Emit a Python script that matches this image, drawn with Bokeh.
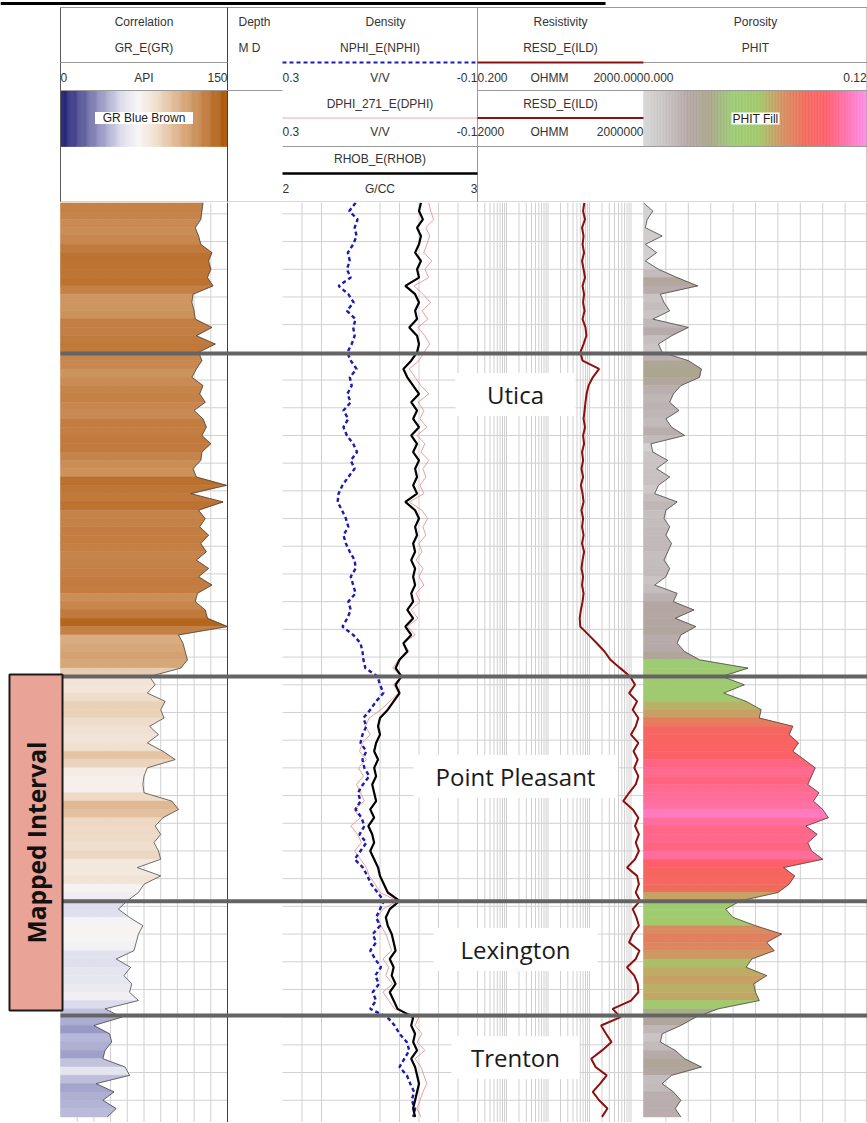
import numpy as np
from bokeh.plotting import figure
from bokeh.layouts import column
from bokeh.models import Range1d, LinearScale, LogScale
from bokeh.core.properties import value
from bokeh.embed import file_html
from bokeh.resources import INLINE

# ---------------- data ----------------
DEPTH_TOP = 6996.0      # ft, first sample
DEPTH_STEP = 3.0        # ft between samples

GR = [128, 127, 126, 121, 124, 126, 136, 133, 135, 132,
      137, 119, 118, 120, 121, 136, 122, 139, 124, 127,
      122, 118, 128, 125, 130, 120, 128, 131, 127, 135,
      127, 126, 119, 122, 149, 117, 146, 124, 130, 125,
      133, 126, 131, 122, 133, 124, 136, 123, 121, 130,
      132, 150, 106, 110, 112, 114, 108, 80, 85, 78,
      94, 90, 93, 80, 88, 78, 92, 103, 78, 75,
      74, 75, 100, 106, 92, 85, 90, 84, 88, 90,
      69, 90, 75, 70, 60, 52, 62, 74, 70, 68,
      66, 50, 63, 57, 64, 62, 70, 40, 55, 30,
      44, 46, 40, 38, 58, 62, 32, 48, 38, 50, 42]

NPHI = [0.150, 0.163, 0.146, 0.152, 0.148, 0.155, 0.166, 0.162, 0.168, 0.160,
        0.185, 0.165, 0.154, 0.168, 0.150, 0.155, 0.152, 0.158, 0.167, 0.160,
        0.148, 0.162, 0.158, 0.167, 0.160, 0.175, 0.165, 0.175, 0.168, 0.155,
        0.147, 0.160, 0.152, 0.165, 0.177, 0.185, 0.187, 0.178, 0.170, 0.165,
        0.175, 0.170, 0.162, 0.152, 0.150, 0.160, 0.155, 0.150, 0.165, 0.160,
        0.167, 0.177, 0.155, 0.140, 0.136, 0.134, 0.130, 0.105, 0.100, 0.093,
        0.108, 0.120, 0.134, 0.128, 0.136, 0.140, 0.128, 0.136, 0.132, 0.122,
        0.135, 0.145, 0.140, 0.150, 0.138, 0.132, 0.142, 0.128, 0.140, 0.152,
        0.135, 0.126, 0.118, 0.105, 0.092, 0.100, 0.108, 0.100, 0.115, 0.108,
        0.120, 0.110, 0.098, 0.110, 0.102, 0.115, 0.108, 0.120, 0.085, 0.070,
        0.060, 0.045, 0.040, 0.050, 0.060, 0.045, 0.038, 0.030, 0.035, 0.028, 0.032]

DPHI = [0.000, -0.004, -0.010, 0.006, -0.002, 0.004, 0.010, -0.006, 0.008, 0.000,
        0.030, 0.012, -0.004, 0.014, 0.002, 0.022, 0.008, -0.002, 0.010, 0.020,
        0.040, 0.028, 0.016, 0.000, 0.022, 0.010, 0.018, 0.004, 0.024, 0.008,
        0.016, 0.000, 0.012, 0.006, 0.018, 0.010, 0.040, 0.014, 0.002, 0.012,
        0.006, 0.020, 0.014, 0.026, 0.012, 0.020, 0.010, 0.026, 0.018, 0.036,
        0.022, 0.044, 0.028, 0.052, 0.040, 0.062, 0.074, 0.056, 0.072, 0.062,
        0.080, 0.098, 0.122, 0.130, 0.120, 0.136, 0.142, 0.128, 0.144, 0.134,
        0.148, 0.140, 0.132, 0.154, 0.140, 0.160, 0.146, 0.138, 0.152, 0.140,
        0.128, 0.122, 0.110, 0.100, 0.064, 0.094, 0.106, 0.098, 0.088, 0.082,
        0.076, 0.094, 0.082, 0.088, 0.074, 0.094, 0.082, 0.070, 0.020, 0.028,
        0.014, 0.024, 0.008, 0.028, 0.016, 0.010, 0.004, 0.012, 0.018, 0.024, 0.016]

RHOB = [2.71, 2.70, 2.72, 2.69, 2.71, 2.70, 2.68, 2.71, 2.69, 2.70,
        2.63, 2.68, 2.70, 2.68, 2.69, 2.65, 2.69, 2.70, 2.69, 2.66,
        2.62, 2.64, 2.67, 2.70, 2.66, 2.69, 2.67, 2.70, 2.66, 2.69,
        2.67, 2.70, 2.68, 2.69, 2.67, 2.69, 2.63, 2.68, 2.70, 2.68,
        2.69, 2.67, 2.68, 2.66, 2.68, 2.67, 2.68, 2.66, 2.67, 2.64,
        2.67, 2.63, 2.66, 2.62, 2.64, 2.60, 2.58, 2.61, 2.58, 2.60,
        2.57, 2.54, 2.50, 2.49, 2.50, 2.48, 2.47, 2.49, 2.47, 2.48,
        2.46, 2.47, 2.48, 2.45, 2.47, 2.44, 2.46, 2.47, 2.45, 2.47,
        2.49, 2.50, 2.52, 2.54, 2.60, 2.55, 2.53, 2.54, 2.56, 2.57,
        2.58, 2.55, 2.57, 2.56, 2.58, 2.55, 2.57, 2.59, 2.67, 2.66,
        2.68, 2.67, 2.69, 2.66, 2.68, 2.69, 2.70, 2.69, 2.68, 2.67, 2.68]

ILD = [75, 70, 78, 66, 72, 68, 74, 66, 72, 78,
       68, 74, 70, 76, 68, 80, 84, 72, 60, 68,
       170, 120, 95, 85, 80, 76, 72, 78, 70, 74,
       66, 70, 64, 70, 62, 68, 72, 64, 70, 66,
       72, 66, 74, 68, 64, 70, 66, 72, 68, 62,
       58, 60, 95, 150, 230, 320, 550, 950, 1250, 900,
       1400, 1100, 1500, 1300, 1000, 1500, 1150, 1450, 1200, 1500,
       1300, 900, 650, 1100, 1500, 1250, 1550, 1300, 1550, 1250,
       800, 1400, 1550, 1300, 1650, 1100, 1350, 1550, 1100, 900,
       1600, 1300, 800, 1200, 1450, 1500, 1000, 360, 560, 190,
       250, 340, 200, 110, 140, 260, 180, 120, 170, 270, 200]

PHIT = [0.000, 0.005, 0.002, 0.001, 0.010, 0.001, 0.007, 0.001, 0.008, 0.018,
        0.029, 0.009, 0.011, 0.014, 0.005, 0.024, 0.015, 0.008, 0.010, 0.024,
        0.031, 0.030, 0.020, 0.016, 0.014, 0.019, 0.012, 0.015, 0.022, 0.004,
        0.005, 0.013, 0.007, 0.014, 0.008, 0.006, 0.018, 0.012, 0.011, 0.014,
        0.012, 0.015, 0.013, 0.011, 0.014, 0.012, 0.006, 0.018, 0.016, 0.027,
        0.017, 0.028, 0.020, 0.018, 0.022, 0.030, 0.056, 0.042, 0.054, 0.043,
        0.055, 0.063, 0.062, 0.080, 0.078, 0.083, 0.080, 0.086, 0.092, 0.090,
        0.088, 0.094, 0.091, 0.096, 0.099, 0.087, 0.093, 0.088, 0.090, 0.096,
        0.075, 0.081, 0.078, 0.072, 0.052, 0.044, 0.048, 0.060, 0.074, 0.066,
        0.070, 0.058, 0.055, 0.066, 0.059, 0.060, 0.062, 0.040, 0.028, 0.020,
        0.010, 0.009, 0.017, 0.022, 0.031, 0.015, 0.010, 0.016, 0.020, 0.017, 0.020]

FORMATIONS = ["Utica", "Point Pleasant", "Lexington", "Trenton"]
FORMATION_TOPS = [7050.4, 7167.0, 7248.2, 7289.4]
LABEL_DEPTHS = [7065.2, 7203.1, 7265.6, 7304.6]
MAPPED_INTERVAL = [7166.3, 7287.6]

DEPTH_GRID = [7000, 7010, 7020, 7030, 7040, 7050, 7060, 7070, 7080, 7090,
              7100, 7110, 7120, 7130, 7140, 7150, 7160, 7170, 7180, 7190,
              7200, 7210, 7220, 7230, 7240, 7250, 7260, 7270, 7280, 7290,
              7300, 7310, 7320]
GR_GRID = [15, 30, 45, 60, 75, 90, 105, 120, 135]
RHOB_GRID = [2.1, 2.2, 2.5, 2.6, 2.7, 2.8, 2.9]
RES_GRID = [0.2, 0.3, 0.4, 0.5, 0.6, 0.7, 0.8, 0.9,
            1, 2, 3, 4, 5, 6, 7, 8, 9,
            10, 20, 30, 40, 50, 60, 70, 80, 90,
            100, 200, 300, 400, 500, 600, 700, 800, 900,
            1000]
PHIT_GRID = [0.012, 0.024, 0.036, 0.048, 0.060, 0.072, 0.084, 0.096, 0.108]

depth = DEPTH_TOP + DEPTH_STEP * np.arange(len(GR))

# ---------------- layout / style ----------------
HEADER_H = 202
BODY_H = 920
PX_PER_FT = 2.77
VIEW_TOP = 6995.9
VIEW_BOTTOM = VIEW_TOP + BODY_H / PX_PER_FT
FIG_X0, FIG_X1 = 0, 867
W = FIG_X1 - FIG_X0

# track name: (left px, right px, value at left, value at right, log?)
TRACKS = {
    "gr":   (60, 227, 0.0, 150.0, False),
    "nphi": (282, 477, 0.3, -0.1, False),
    "rhob": (282, 477, 2.0, 3.0, False),
    "res":  (477, 643, 0.2, 2000.0, True),
    "phit": (643, 867, 0.0, 0.12, False),
}

GR_STOPS = [(0, "#1a1a72"), (20, "#5a5a9c"), (40, "#a4a4cc"), (55, "#dcdcec"),
            (70, "#f8f6f6"), (85, "#f0e0d0"), (100, "#e2bf9c"), (115, "#d29e6c"),
            (130, "#c27c40"), (150, "#a85400")]
PHIT_STOPS = [(0.0, "#d8d8d8"), (0.1, "#c8c2c2"), (0.2, "#b4a6a6"), (0.3, "#aaa68a"),
              (0.4, "#9ccc74"), (0.52, "#a4c86c"), (0.62, "#d49262"), (0.72, "#f26a5a"),
              (0.82, "#ff5e6c"), (0.9, "#ff72aa"), (1.0, "#ff92ee")]
PHIT_FILL_SPAN = 0.105

GRID_C = "#d0d0d0"
HDR_LINE = "#9a9a9a"
TXT_C = "#333333"
HFONT = value("Liberation Sans")
LFONT = value("Open Sans")


def hex2rgb(h):
    return tuple(int(h[i:i + 2], 16) for i in (1, 3, 5))


def cmap(stops, t):
    t = min(max(t, stops[0][0]), stops[-1][0])
    for (p0, c0), (p1, c1) in zip(stops[:-1], stops[1:]):
        if t <= p1:
            f = (t - p0) / (p1 - p0)
            a, b = hex2rgb(c0), hex2rgb(c1)
            return "#%02x%02x%02x" % tuple(int(round(a[k] + (b[k] - a[k]) * f)) for k in range(3))
    return stops[-1][1]


def track_range(a, b, v0, v1, log):
    if log:
        l0, l1 = np.log10(v0), np.log10(v1)
        k = (l1 - l0) / (b - a)
        return Range1d(10 ** (l0 + k * (FIG_X0 - a)), 10 ** (l0 + k * (FIG_X1 - a)))
    k = (v1 - v0) / (b - a)
    return Range1d(v0 + k * (FIG_X0 - a), v0 + k * (FIG_X1 - a))


def make_fig(height, y_range):
    p = figure(width=W, height=height, x_range=Range1d(FIG_X0, FIG_X1), y_range=y_range,
               output_backend="svg", toolbar_location=None,
               x_axis_location=None, y_axis_location=None, min_border=0)
    p.grid.visible = False
    p.outline_line_color = None
    p.background_fill_color = "white"
    p.border_fill_color = "white"
    p.extra_x_ranges = {n: track_range(*t) for n, t in TRACKS.items()}
    p.extra_x_scales = {n: (LogScale() if t[4] else LinearScale()) for n, t in TRACKS.items()}
    return p


# ---------------- header ----------------
h = make_fig(HEADER_H, Range1d(HEADER_H, 0))


def htext(x, y, s, align="center", rng="default", size="12px", color=TXT_C):
    h.text(x=[x], y=[y], text=[s], x_range_name=rng, text_align=align, text_baseline="middle",
           text_font=HFONT, text_font_size=size, text_color=color)


def hseg(x0, y0, x1, y1, color=HDR_LINE, width=1, dash="solid"):
    h.segment(x0=[x0], y0=[y0], x1=[x1], y1=[y1], line_color=color, line_width=width, line_dash=dash)


# gradient legend bars
gr_steps = np.linspace(0, 150, 151)
gr_bar = [cmap(GR_STOPS, v) for v in (gr_steps[:-1] + 0.5)]
h.quad(left=gr_steps[:-1], right=gr_steps[1:], top=90, bottom=146, x_range_name="gr",
       fill_color=gr_bar, line_color=gr_bar, line_width=0.5)
ph_steps = np.linspace(0, 0.12, 151)
ph_cols = [cmap(PHIT_STOPS, v / 0.12) for v in (ph_steps[:-1] + 0.0004)]
h.quad(left=ph_steps[:-1], right=ph_steps[1:], top=90, bottom=146, x_range_name="phit",
       fill_color=ph_cols, line_color=ph_cols, line_width=0.5)
h.rect(x=[75], y=[117.5], width=88, height=12, x_range_name="gr", fill_color="white", line_color=None)
htext(75, 117.5, "GR Blue Brown", rng="gr", color="#222222")
h.rect(x=[755], y=[118], width=48, height=12, fill_color="white", line_color=None)
htext(755, 118, "PHIT Fill", color="#222222")

# frame lines
hseg(0, 3, 605, 3, color="#000000", width=3)
hseg(60, 7, 867, 7)
hseg(60, 7, 60, 202, color="#5a5a5a")
hseg(227, 7, 227, 202, color="#404040")
hseg(477, 7, 477, 202)
hseg(866.5, 7, 866.5, 202)
hseg(60, 90, 282, 90)
hseg(477, 90, 867, 90)
hseg(282, 146, 867, 146)
hseg(60, 201.5, 867, 201.5, color="#b0b0b0")

# curve legend lines
hseg(60, 62, 227, 62)
hseg(643, 62, 867, 62)
hseg(282, 62, 477, 62, color="#1c1cb0", width=2, dash="4 3")
hseg(477, 62, 643, 62, color="#8b1010", width=2)
hseg(282, 117.5, 477, 117.5, color="#f0a8a8", width=1)
hseg(477, 117.5, 643, 117.5, color="#8b1010", width=2)
hseg(282, 173, 477, 173, color="#000000", width=2.5)

# titles
htext(143.5, 21, "Correlation")
htext(254, 21, "Depth")
htext(385, 21, "Density")
htext(560, 21, "Resistivity")
htext(755, 21, "Porosity")
htext(143.5, 47, "GR_E(GR)")
htext(249, 47, "M D")
htext(379.5, 47, "NPHI_E(NPHI)")
htext(560, 47, "RESD_E(ILD)")
htext(755, 47, "PHIT")
htext(379.5, 103, "DPHI_271_E(DPHI)")
htext(560, 103, "RESD_E(ILD)")
htext(379.5, 158, "RHOB_E(RHOB)")

# scale rows
htext(0, 77, "0", "left", "gr")
htext(75, 77, "API", "center", "gr")
htext(150, 77, "150", "right", "gr")
htext(0.3, 77, "0.3", "left", "nphi")
htext(0.1, 77, "V/V", "center", "nphi")
htext(-0.1, 77, "-0.1", "right", "nphi")
htext(0.2, 77, "0.200", "left", "res")
htext(549, 77, "OHMM")
htext(2000, 77, "2000.000", "right", "res")
htext(0.0, 77, "0.000", "left", "phit")
htext(0.1195, 77, "0.12", "right", "phit")
htext(0.3, 131, "0.3", "left", "nphi")
htext(0.1, 131, "V/V", "center", "nphi")
htext(-0.1, 131, "-0.1", "right", "nphi")
htext(0.2, 131, "2000", "left", "res")
htext(549, 131, "OHMM")
htext(2000, 131, "2000000", "right", "res")
htext(2.0, 188, "2", "left", "rhob")
htext(2.5, 188, "G/CC", "center", "rhob")
htext(3.0, 188, "3", "right", "rhob")

# ---------------- body ----------------
p = make_fig(BODY_H, Range1d(VIEW_BOTTOM, VIEW_TOP))
nd = len(DEPTH_GRID)
for name in ["gr", "rhob", "res", "phit"]:
    a, b, v0, v1, _ = TRACKS[name]
    p.segment(x0=[v0] * nd, x1=[v1] * nd, y0=DEPTH_GRID, y1=DEPTH_GRID,
              x_range_name=name, line_color=GRID_C, line_width=1)
for name, ticks in [("gr", GR_GRID), ("rhob", RHOB_GRID), ("res", RES_GRID), ("phit", PHIT_GRID)]:
    n = len(ticks)
    p.segment(x0=ticks, x1=ticks, y0=[VIEW_TOP] * n, y1=[VIEW_BOTTOM] * n,
              x_range_name=name, line_color=GRID_C, line_width=1)

# filled curves
n = len(depth)
gr_xs = [[0.0, GR[i], GR[i + 1], 0.0] for i in range(n - 1)]
ys = [[depth[i], depth[i], depth[i + 1], depth[i + 1]] for i in range(n - 1)]
gr_cols = [cmap(GR_STOPS, (GR[i] + GR[i + 1]) / 2) for i in range(n - 1)]
p.patches(xs=gr_xs, ys=ys, fill_color=gr_cols, line_color=gr_cols, line_width=0.6, x_range_name="gr")
p.line(GR, depth, x_range_name="gr", line_color="#3a3a3a", line_width=0.7)

ph_xs = [[0.0, PHIT[i], PHIT[i + 1], 0.0] for i in range(n - 1)]
ph_fill = [cmap(PHIT_STOPS, (PHIT[i] + PHIT[i + 1]) / 2 / PHIT_FILL_SPAN) for i in range(n - 1)]
p.patches(xs=ph_xs, ys=ys, fill_color=ph_fill, line_color=ph_fill, line_width=0.6, x_range_name="phit")
p.line(PHIT, depth, x_range_name="phit", line_color="#3a3a3a", line_width=0.7)

# density / resistivity curves
p.line(DPHI, depth, x_range_name="nphi", line_color="#e89494", line_width=0.9)
p.line(NPHI, depth, x_range_name="nphi", line_color="#1c1cb0", line_width=2.4, line_dash="4 3")
p.line(RHOB, depth, x_range_name="rhob", line_color="#000000", line_width=2.2)
p.line(ILD, depth, x_range_name="res", line_color="#8b1010", line_width=2)

# track borders
p.segment(x0=[150], x1=[150], y0=[VIEW_TOP], y1=[VIEW_BOTTOM], x_range_name="gr",
          line_color="#404040", line_width=1)
p.segment(x0=[0.1195], x1=[0.1195], y0=[VIEW_TOP], y1=[VIEW_BOTTOM], x_range_name="phit",
          line_color="#c8c8c8", line_width=1)

# formation tops
nf = len(FORMATION_TOPS)
p.segment(x0=[60] * nf, x1=[867] * nf, y0=FORMATION_TOPS, y1=FORMATION_TOPS,
          line_color="#646464", line_width=4)

# mapped interval box
p.quad(left=[9], right=[62], top=[MAPPED_INTERVAL[0]], bottom=[MAPPED_INTERVAL[1]],
       fill_color="#e9a397", line_color="#1a1a1a", line_width=2)
p.text(x=[36], y=[(MAPPED_INTERVAL[0] + MAPPED_INTERVAL[1]) / 2], text=["Mapped Interval"],
       angle=np.pi / 2, text_align="center", text_baseline="middle",
       text_font=LFONT, text_font_style="bold", text_font_size="24.5px", text_color="#111111")

# formation labels
p.rect(x=[515] * nf, y=LABEL_DEPTHS, width=[120, 204, 164, 128], height=15.5,
       fill_color="white", line_color=None)
p.text(x=[515] * nf, y=LABEL_DEPTHS, text=FORMATIONS, text_align="center", text_baseline="middle",
       text_font=LFONT, text_font_size="24px", text_color="#1a1a1a")

layout = column(h, p, spacing=0)
open("out.html", "w").write(file_html(layout, INLINE))
